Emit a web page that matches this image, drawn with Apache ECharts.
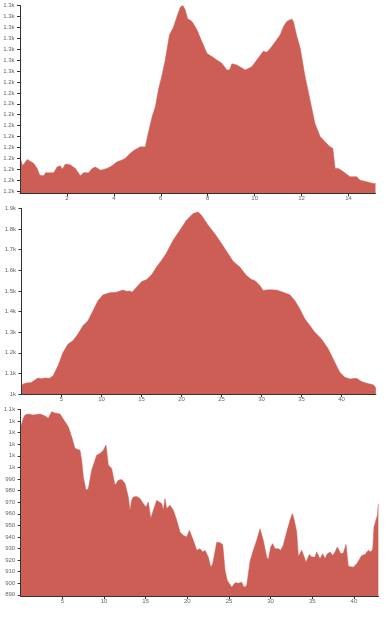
<!DOCTYPE html>
<html><head><meta charset="utf-8">
<script src="https://cdn.jsdelivr.net/npm/echarts@6/dist/echarts.min.js"></script>
<style>html,body{margin:0;padding:0;background:#fff}#c{width:389px;height:619px}</style>
</head><body><div id="c"></div>
<script>
// ---- Panel 1 (distance km, elevation m) ----
const dist1 = [0, 0.11, 0.31, 0.59, 0.73, 0.84, 1.01, 1.09, 1.44, 1.51, 1.58, 1.72, 1.8, 1.94, 2.15, 2.36, 2.57, 2.71, 2.93, 3.07, 3.21, 3.43, 3.5, 3.71, 3.92, 4.14, 4.35, 4.49, 4.7, 4.83, 5.13, 5.34, 5.43, 5.63, 5.77, 5.91, 6.05, 6.19, 6.37, 6.54, 6.69, 6.83, 6.94, 7.04, 7.14, 7.33, 7.54, 7.75, 7.97, 8.18, 8.39, 8.6, 8.82, 8.93, 9.03, 9.24, 9.6, 9.88, 10.09, 10.37, 10.52, 10.73, 10.94, 11.09, 11.23, 11.37, 11.58, 11.65, 11.8, 11.94, 12.15, 12.36, 12.57, 12.79, 13.0, 13.21, 13.33, 13.43, 13.57, 13.78, 14.06, 14.35, 14.49, 14.77, 15.06, 15.15];
const elev1 = [1210.7, 1206.6, 1209.5, 1207.7, 1205.4, 1202.3, 1202, 1203.4, 1203.4, 1202.9, 1206, 1206.6, 1205, 1207.4, 1207, 1205.4, 1202, 1203.4, 1203.4, 1205.4, 1206, 1204.6, 1203.9, 1205.4, 1206.6, 1208.4, 1209.2, 1210, 1212.3, 1213.5, 1215.3, 1215.2, 1219.9, 1229, 1233.7, 1242, 1248, 1255, 1266.6, 1270, 1275, 1279.2, 1280, 1278, 1274, 1272.7, 1268.9, 1263.5, 1258, 1256.6, 1255, 1253.6, 1250.5, 1250.5, 1253.3, 1252.8, 1250.5, 1252, 1255, 1259, 1258.6, 1261.2, 1264.3, 1266.6, 1270.4, 1272.7, 1273.8, 1272.7, 1265.8, 1260.5, 1247.4, 1236.7, 1226, 1220, 1217.6, 1215.3, 1214.6, 1205.4, 1205.4, 1203.9, 1201.6, 1201.6, 1200, 1199.3, 1198.5, 1198.5];
const yTicks1 = [1195, 1200, 1205, 1210, 1215, 1220, 1225, 1230, 1235, 1240, 1245, 1250, 1255, 1260, 1265, 1270, 1275, 1280];
const xTicks1 = [2, 4, 6, 8, 10, 12, 14];

// ---- Panel 2 ----
const dist2 = [0, 0.2, 0.63, 1.25, 1.66, 2.08, 2.5, 2.91, 3.5, 3.95, 4.58, 5.2, 5.83, 6.45, 7.08, 7.7, 8.33, 8.95, 9.58, 10.2, 11.04, 11.87, 12.7, 13.12, 13.54, 13.83, 14.2, 15.04, 15.66, 16.29, 16.87, 17.5, 18.12, 18.95, 19.79, 20.62, 21.45, 22.08, 22.5, 23.33, 24.16, 25, 25.83, 26.45, 27.29, 28.12, 28.75, 29.16, 29.79, 30.2, 30.62, 31.04, 31.87, 32.7, 33.54, 34.16, 34.79, 35.41, 36.04, 36.66, 37.5, 38.33, 39.16, 39.79, 40.41, 41.04, 41.87, 42.5, 43.12, 43.95, 44.29];
const elev2 = [1037, 1049, 1053, 1056, 1068, 1078, 1074, 1078, 1076, 1089, 1138, 1202, 1243, 1259, 1292, 1332, 1357, 1405, 1454, 1481, 1491, 1494, 1504, 1498, 1500, 1494, 1511, 1546, 1555, 1580, 1616, 1648, 1684, 1746, 1794, 1843, 1876, 1883, 1867, 1819, 1778, 1730, 1681, 1644, 1616, 1575, 1555, 1551, 1527, 1502, 1505, 1506, 1504, 1494, 1481, 1454, 1413, 1365, 1332, 1300, 1267, 1219, 1154, 1105, 1081, 1073, 1076, 1061, 1052, 1045, 1032];
const yTicks2 = [1000, 1100, 1200, 1300, 1400, 1500, 1600, 1700, 1800, 1900];
const xTicks2 = [5, 10, 15, 20, 25, 30, 35, 40];

// ---- Panel 3 ----
const dist3 = [0, 0.31, 0.52, 0.91, 1.51, 2.32, 2.92, 3.31, 3.72, 4.12, 4.72, 5.32, 5.71, 6.12, 6.52, 7.12, 7.32, 7.52, 7.84, 8.12, 8.52, 9.12, 9.52, 9.92, 10.24, 10.52, 10.92, 11.32, 11.72, 12.12, 12.52, 12.92, 13.12, 13.32, 13.52, 13.93, 14.32, 14.72, 15.04, 15.32, 15.61, 15.92, 16.33, 16.52, 16.93, 17.12, 17.32, 17.53, 17.92, 18.32, 18.73, 19.12, 19.52, 19.93, 20.24, 20.44, 20.72, 21.13, 21.52, 21.85, 22.12, 22.33, 22.52, 22.81, 23.05, 23.21, 23.53, 23.93, 24.25, 24.53, 24.8, 25.33, 25.73, 26.12, 26.53, 26.81, 27.13, 27.53, 27.92, 28.33, 28.73, 28.81, 29.12, 29.53, 29.72, 30.01, 30.25, 30.53, 30.92, 31.21, 31.52, 31.93, 32.33, 32.61, 32.85, 33.13, 33.33, 33.73, 33.92, 34.25, 34.65, 34.93, 35.33, 35.53, 35.93, 36.25, 36.53, 36.81, 37.13, 37.45, 37.73, 38.01, 38.25, 38.42, 38.73, 39.05, 39.33, 39.93, 40.34, 40.94, 41.33, 41.73, 42.02, 42.26, 42.41, 42.65, 42.81, 42.93];
const elev3 = [1034.9, 1042.4, 1045.2, 1046.1, 1045.2, 1046.1, 1044.4, 1042.4, 1048.1, 1047, 1046.1, 1039.5, 1035.1, 1026.4, 1016.4, 1014.9, 1006.2, 991.8, 980.3, 981.8, 997.6, 1010.6, 1012, 1014.9, 1019.3, 1002, 999.1, 984.6, 989, 989.5, 986.1, 974.5, 963, 971.6, 974.5, 975, 973.1, 968.7, 965.8, 970.2, 955.8, 963, 971.6, 972.1, 968.7, 963, 973.1, 964.4, 967.3, 963, 954.3, 944.2, 941.3, 939.9, 945.7, 944.1, 937.1, 928.4, 929.8, 926.9, 928.4, 929.6, 922.6, 913.9, 916.9, 916.9, 935.5, 935, 933.5, 911.1, 902.4, 896.6, 900.4, 900.1, 900.9, 896.6, 898, 919, 928.4, 937.1, 947, 948.6, 937.1, 922.6, 920.2, 931.3, 934.2, 929.8, 929.8, 928.4, 932.8, 944.2, 954.3, 960.2, 954.3, 944.2, 923.2, 928.4, 924.8, 918.2, 924.8, 922.6, 922.6, 926.9, 921.2, 925.4, 921.2, 925.4, 926.9, 924, 926.9, 931.3, 931.3, 925.4, 926.1, 933.5, 914.7, 913.9, 916.9, 924, 924.8, 928.4, 926.9, 929.6, 948.6, 949.9, 958.6, 968.7];
const yTicks3 = [890, 900, 910, 920, 930, 940, 950, 960, 970, 980, 990, 1000, 1010, 1020, 1030, 1040, 1050];
const xTicks3 = [5, 10, 15, 20, 25, 30, 35, 40];

const FILL = '#cc5e55';
const AXIS = '#333';
const LABEL = '#666';
const FONT = 'Liberation Sans, Arial, sans-serif';

function fmt(v) {
  if (v >= 1000) {
    let s = (v / 1000).toPrecision(2);
    if (s.endsWith('.0')) s = s.slice(0, -2);
    return s + 'k';
  }
  return String(Math.round(v));
}

function pairs(xs, ys) {
  const n = Math.min(xs.length, ys.length);
  const out = [];
  for (let i = 0; i < n; i++) out.push([xs[i], ys[i]]);
  return out;
}

function xAxisCfg(gi, max, ticks) {
  return {
    type: 'value', gridIndex: gi, min: 0, max: max, z: 5,
    splitLine: { show: false },
    axisLine: { show: true, onZero: false, lineStyle: { color: AXIS, width: 1 } },
    axisTick: { show: true, length: 3, lineStyle: { color: AXIS }, customValues: ticks },
    axisLabel: { show: true, fontSize: 6, color: LABEL, margin: 2, fontFamily: FONT, customValues: ticks, formatter: v => String(v) }
  };
}
function yAxisCfg(gi, min, max, ticks) {
  return {
    type: 'value', gridIndex: gi, min: min, max: max, z: 5,
    splitLine: { show: false },
    axisLine: { show: true, lineStyle: { color: AXIS, width: 1 } },
    axisTick: { show: true, length: 3, lineStyle: { color: AXIS }, customValues: ticks },
    axisLabel: { show: true, fontSize: 6, color: LABEL, margin: 5.5, fontFamily: FONT, customValues: ticks, formatter: fmt }
  };
}
function areaSeries(gi, data) {
  return {
    type: 'line', xAxisIndex: gi, yAxisIndex: gi, data: data,
    showSymbol: false, symbol: 'none', smooth: false,
    lineStyle: { color: FILL, width: 0.5 },
    itemStyle: { color: FILL },
    areaStyle: { color: FILL, opacity: 1, origin: 'start' },
    animation: false, silent: true
  };
}

const chart = echarts.init(document.getElementById('c'), null, { renderer: 'canvas' });
chart.setOption({
  backgroundColor: '#fff',
  animation: false,
  grid: [
    { left: 20, top: 5.5, width: 355.5, height: 187.8 },
    { left: 21.5, top: 208.5, width: 354.4, height: 185.5 },
    { left: 20.7, top: 409.5, width: 357.8, height: 186.5 }
  ],
  xAxis: [
    xAxisCfg(0, 15.15, xTicks1),
    xAxisCfg(1, 44.3, xTicks2),
    xAxisCfg(2, 42.95, xTicks3)
  ],
  yAxis: [
    yAxisCfg(0, 1194, 1280, yTicks1),
    yAxisCfg(1, 1000, 1900, yTicks2),
    yAxisCfg(2, 889, 1050, yTicks3)
  ],
  series: [
    areaSeries(0, pairs(dist1, elev1)),
    areaSeries(1, pairs(dist2, elev2)),
    areaSeries(2, pairs(dist3, elev3))
  ]
});
</script>
</body></html>
